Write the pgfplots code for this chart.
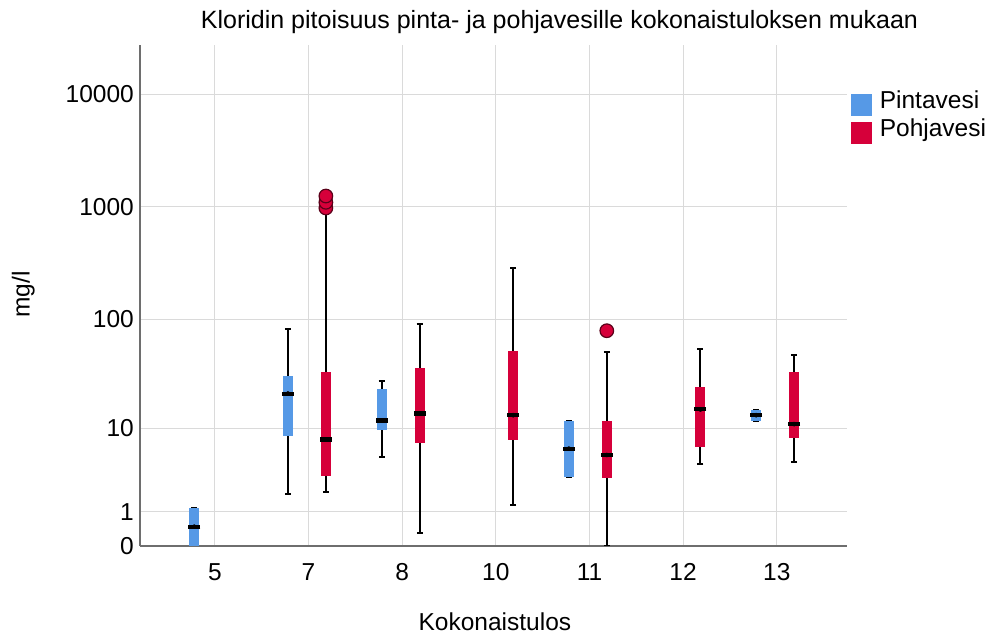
\documentclass[border=0pt]{standalone}
\usepackage{fontspec}
\setmainfont{Liberation Sans}
\usepackage{pgfplots}
\usepackage{pgfplotstable}
\pgfplotsset{compat=1.18}
\definecolor{pblue}{RGB}{86,153,230}
\definecolor{pred}{RGB}{214,0,58}
\definecolor{odark}{RGB}{90,0,25}
\definecolor{gridc}{RGB}{218,218,218}
\definecolor{axc}{RGB}{110,110,110}

% Pintavesi (surface water): category position, min, Q1, median, Q3, max (mg/l)
\pgfplotstableread{
pos min q1 med q3 max
0 0 0 0.48 1.19 1.19
1 1.9 8.5 21.3 31.0 82.7
2 5.1 9.6 11.9 23.4 28.0
4 3.06 3.06 6.26 11.8 11.8
6 11.8 11.8 13.4 15.0 15.0
}\pint
% Pohjavesi (groundwater)
\pgfplotstableread{
pos min q1 med q3 max
1 2.0 3.19 7.75 34.0 950
2 0.31 7.1 13.9 36.4 91
3 1.29 7.7 13.4 52.5 286
4 0 3.02 5.39 11.8 51.4
5 4.28 6.56 15.2 24.4 54.1
6 4.57 8.1 11.0 33.4 48
}\pohj
% Pohjavesi outliers
\pgfplotstableread{
pos val
1 980
1 1100
1 1250
4 79.4
}\pohjout

\newcommand{\fs}{\fontsize{24.5}{28}\selectfont}

\pgfplotsset{
  whisk/.style={only marks, mark=none, forget plot,
    error bars/.cd, y dir=both, y explicit, error mark=|,
    error mark options={black, line width=2pt, mark size=3pt},
    error bar style={black, line width=2pt}},
  boxs/.style={only marks, mark=none, forget plot,
    error bars/.cd, y dir=both, y explicit, error mark=none,
    error bar style={#1, line width=10pt}},
  medn/.style={only marks, mark=-, mark size=6pt, forget plot,
    mark options={black, line width=4.2pt}},
}

\begin{document}
\begin{tikzpicture}
\useasboundingbox (0pt,0pt) rectangle (989pt,637pt);
\begin{axis}[
  at={(140pt,91pt)}, anchor=south west,
  scale only axis, width=707pt, height=501pt,
  xmin=-0.8, xmax=6.75, ymin=0, ymax=4.434,
  xtick={0,1,2,3,4,5,6},
  xticklabels={5,7,8,10,11,12,13},
  ytick={0,0.30103,1.04139,2.00432,3.00043,4.00004},
  yticklabels={0,1,10,100,1000,10000},
  xmajorgrids, ymajorgrids,
  grid style={gridc, line width=1pt},
  axis x line*=bottom, axis y line*=left,
  axis line style={axc, line width=1.5pt, -},
  major tick length=0pt,
  tick label style={font=\fs},
  /pgf/number format/assume math mode=true,
  yticklabel style={anchor=east, inner sep=0pt, xshift=-6pt},
  xticklabel style={anchor=north, inner sep=0pt, yshift=-17pt},
  xlabel={Kokonaistulos},
  xlabel style={font=\fs, at={(axis description cs:0.502,-0.1677)}, anchor=base},
  ylabel={mg/l},
  ylabel style={font=\fs, at={(axis description cs:-0.156,0.502)}, anchor=base, rotate=0},
  legend style={at={(axis description cs:1.006,0.91)}, anchor=north west,
    draw=none, fill=none, font=\fs, inner sep=0pt, row sep=0pt, column sep=7pt,
    nodes={inner sep=1pt, text height=17pt, text depth=9pt}},
  legend cell align=left,
]
\addlegendimage{legend image code/.code={\fill[pblue] (0pt,-10.5pt) rectangle (20pt,10.5pt);}}
\addlegendentry{Pintavesi}
\addlegendimage{legend image code/.code={\fill[pred] (0pt,-10.5pt) rectangle (20pt,10.5pt);}}
\addlegendentry{Pohjavesi}

% whiskers
\addplot[whisk] table[x expr=\thisrow{pos}-0.22, y expr={log10(\thisrow{med}+1)},
  y error plus expr={log10(\thisrow{max}+1)-log10(\thisrow{med}+1)},
  y error minus expr={log10(\thisrow{med}+1)-log10(\thisrow{min}+1)}] {\pint};
\addplot[whisk] table[x expr=\thisrow{pos}+0.185, y expr={log10(\thisrow{med}+1)},
  y error plus expr={log10(\thisrow{max}+1)-log10(\thisrow{med}+1)},
  y error minus expr={log10(\thisrow{med}+1)-log10(\thisrow{min}+1)}] {\pohj};
% boxes
\addplot[boxs=pblue] table[x expr=\thisrow{pos}-0.22, y expr={log10(\thisrow{med}+1)},
  y error plus expr={log10(\thisrow{q3}+1)-log10(\thisrow{med}+1)},
  y error minus expr={log10(\thisrow{med}+1)-log10(\thisrow{q1}+1)}] {\pint};
\addplot[boxs=pred] table[x expr=\thisrow{pos}+0.185, y expr={log10(\thisrow{med}+1)},
  y error plus expr={log10(\thisrow{q3}+1)-log10(\thisrow{med}+1)},
  y error minus expr={log10(\thisrow{med}+1)-log10(\thisrow{q1}+1)}] {\pohj};
% medians
\addplot[medn] table[x expr=\thisrow{pos}-0.22, y expr={log10(\thisrow{med}+1)}] {\pint};
\addplot[medn] table[x expr=\thisrow{pos}+0.185, y expr={log10(\thisrow{med}+1)}] {\pohj};
% outliers
\addplot[only marks, mark=*, mark size=6.8pt, forget plot,
  mark options={fill=pred, draw=odark, line width=1.2pt}]
  table[x expr=\thisrow{pos}+0.185, y expr={log10(\thisrow{val}+1)}] {\pohjout};
\end{axis}
\node[anchor=base, font=\fontsize{25}{28}\selectfont] at (559.5pt,608pt)
  {Kloridin pitoisuus pinta- ja pohjavesille kokonaistuloksen mukaan};
\end{tikzpicture}
\end{document}
